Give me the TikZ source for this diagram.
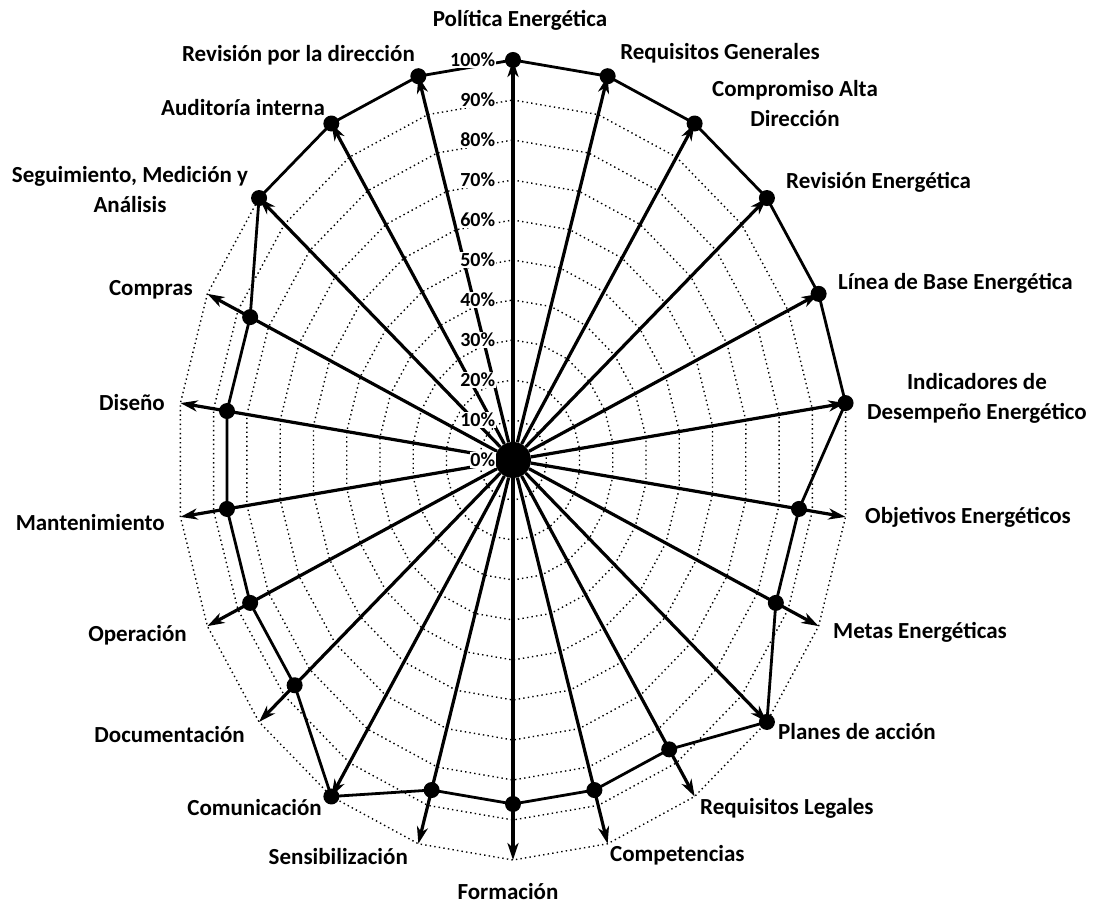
\documentclass[tikz,border=0pt]{standalone}
\usepackage{fontspec}
\setmainfont{Carlito}
\usetikzlibrary{arrows.meta}

\begin{document}
\begin{tikzpicture}[x=1pt,y=1pt,
    lbl/.style={font=\fontsize{23}{30}\selectfont\bfseries, inner sep=1pt, align=center},
    pct/.style={font=\fontsize{20}{20}\selectfont\bfseries, fill=white, inner sep=0.6pt, anchor=east},
    eje/.style={line width=3.2pt, -{Stealth[length=17pt,width=11pt,inset=5pt]}},
    anillo/.style={line width=1.4pt, dash pattern=on 1.4pt off 3.2pt},
    dato/.style={circle, fill=black, inner sep=0pt, minimum size=16pt},
    contorno/.style={line width=2.8pt, line join=round}]

    \useasboundingbox (-513,-444) rectangle (582,460);

    % Draw the grid rings
    \foreach \r in {1,...,10}{
        \draw[anillo] (0,{40*\r})
            \foreach \k in {1,...,21}{ -- ({33.6*\r*cos(90-\k*360/22)},{40*\r*sin(90-\k*360/22)}) } -- cycle;
    }

    % Axis ends and data points
    \foreach \k in {0,...,21}
        \coordinate (e\k) at ({336*cos(90-\k*360/22)},{400*sin(90-\k*360/22)});
    \foreach \k/\v in {0/1,1/1,2/1,3/1,4/1,5/1,6/.86,7/.86,8/1,9/.86,10/.86,
                       11/.86,12/.86,13/1,14/.86,15/.86,16/.86,17/.86,18/.86,19/1,20/1,21/1}
        \coordinate (d\k) at ({336*\v*cos(90-\k*360/22)},{400*\v*sin(90-\k*360/22)});

    % Draw the axes
    \node[circle, fill=black, minimum size=36pt, inner sep=0pt] (centro) at (0,0) {};
    \foreach \k in {0,...,21}
        \draw[eje] (centro) -- (e\k);

    % Draw the values
    \draw[contorno] (d0) \foreach \k in {1,...,21}{ -- (d\k) } -- cycle;
    \foreach \k in {0,...,21}
        \node[dato] (p\k) at (d\k) {};

    % Percent scale
    \foreach \p [evaluate=\p as \n using int(10*\p)] in {0,...,10}
        \node[pct] (pc\p) at (-17,{40*\p}) {\n\%};

    % Labels
    \node[lbl] (politica) at (7,440) {Política Energética};
    \node[lbl] (reqgen) at (207,407) {Requisitos Generales};
    \node[lbl] (compromiso) at (282,356) {Compromiso Alta\\Dirección};
    \node[lbl, anchor=west] (reven) at (272,278) {Revisión Energética};
    \node[lbl, anchor=west] (lineabase) at (324,177) {Línea de Base Energética};
    \node[lbl] (indicadores) at (464,62) {Indicadores de\\Desempeño Energético};
    \node[lbl, anchor=west] (objetivos) at (351,-57) {Objetivos Energéticos};
    \node[lbl, anchor=west] (metas) at (319,-172) {Metas Energéticas};
    \node[lbl, anchor=west] (planes) at (264,-272) {Planes de acción};
    \node[lbl, anchor=west] (reqleg) at (186,-348) {Requisitos Legales};
    \node[lbl, anchor=west] (competencias) at (96,-395) {Competencias};
    \node[lbl] (formacion) at (-5,-432) {Formación};
    \node[lbl, anchor=east] (sensib) at (-104,-397) {Sensibilización};
    \node[lbl, anchor=east] (comunic) at (-190,-348) {Comunicación};
    \node[lbl, anchor=east] (docum) at (-267,-275) {Documentación};
    \node[lbl, anchor=east] (operac) at (-325,-175) {Operación};
    \node[lbl, anchor=east] (mant) at (-347,-63) {Mantenimiento};
    \node[lbl, anchor=east] (diseno) at (-347,57) {Diseño};
    \node[lbl, anchor=east] (compras) at (-319,170) {Compras};
    \node[lbl] (seguim) at (-383,270) {Seguimiento, Medición y\\Análisis};
    \node[lbl, anchor=east] (auditoria) at (-187,352) {Auditoría interna};
    \node[lbl, anchor=east] (revdir) at (-97,405) {Revisión por la dirección};
\end{tikzpicture}
\end{document}
